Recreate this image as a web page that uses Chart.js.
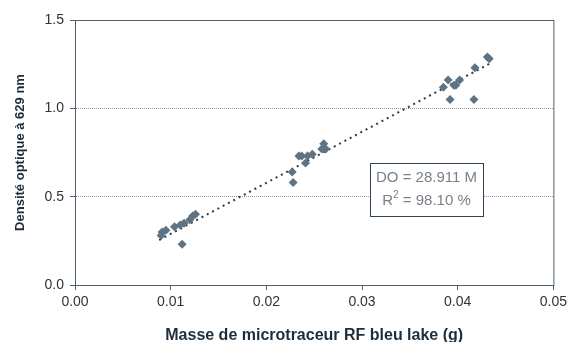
<!DOCTYPE html>
<html>
<head>
<meta charset="utf-8">
<script src="https://cdn.jsdelivr.net/npm/chart.js@4/dist/chart.umd.min.js"></script>
<style>
  html, body { margin: 0; padding: 0; background: #fff; }
  #wrap { width: 571px; height: 342px; }
</style>
</head>
<body>
<div id="wrap"><canvas id="chart"></canvas></div>
<script>
// masse (g) et densité optique
const masse = [0.0091, 0.0090, 0.0095, 0.0104, 0.0110, 0.0112, 0.0114, 0.0120, 0.0123, 0.0126,
               0.0228, 0.0227, 0.0234, 0.0237, 0.0241, 0.0243, 0.0248, 0.0258, 0.0260, 0.0262,
               0.0385, 0.0390, 0.0392, 0.0396, 0.0398, 0.0402, 0.0418, 0.0417, 0.0431, 0.0433];
const densite = [0.30, 0.28, 0.31, 0.33, 0.34, 0.23, 0.35, 0.37, 0.39, 0.40,
                 0.58, 0.64, 0.73, 0.73, 0.69, 0.73, 0.74, 0.77, 0.80, 0.77,
                 1.12, 1.16, 1.05, 1.13, 1.13, 1.16, 1.23, 1.05, 1.29, 1.28];

// droite de régression passant par l'origine : DO = 28.911 M
const pente = 28.911;
const r2 = '98.10 %';
const trendX = [0.0088, 0.0435];

const xTicks = [0, 0.01, 0.02, 0.03, 0.04, 0.05];
const yTicks = [0, 0.5, 1.0, 1.5];

const axisColor = '#4d6070';

// cadre + encadré de l'équation
const boxPlugin = {
    id: 'boxPlugin',
    afterDraw(chart) {
        const { ctx, chartArea: a } = chart;
        ctx.save();
        ctx.strokeStyle = axisColor;
        ctx.lineWidth = 1;
        ctx.setLineDash([]);
        ctx.strokeRect(a.left + 0.5, a.top + 0.5, a.right - a.left, a.bottom - a.top);

        const bx = 370, by = 163, bw = 113, bh = 53;
        ctx.fillStyle = '#fff';
        ctx.fillRect(bx, by, bw, bh);
        ctx.strokeStyle = '#2e4456';
        ctx.strokeRect(bx + 0.5, by + 0.5, bw, bh);

        ctx.fillStyle = '#7b8189';
        ctx.font = '15px "Liberation Sans", Arial, sans-serif';
        ctx.textAlign = 'center';
        ctx.textBaseline = 'middle';
        const cx = bx + bw / 2;
        ctx.fillText('DO = ' + pente + ' M', cx, by + 15);
        // R² avec exposant
        const t1 = 'R', t3 = ' = ' + r2;
        const w1 = ctx.measureText(t1).width;
        const w3 = ctx.measureText(t3).width;
        ctx.font = '10px "Liberation Sans", Arial, sans-serif';
        const w2 = ctx.measureText('2').width;
        let x = cx - (w1 + w2 + w3) / 2;
        const y = by + 38;
        ctx.textAlign = 'left';
        ctx.font = '15px "Liberation Sans", Arial, sans-serif';
        ctx.fillText(t1, x, y);
        x += w1;
        ctx.font = '10px "Liberation Sans", Arial, sans-serif';
        ctx.fillText('2', x, y - 6);
        x += w2;
        ctx.font = '15px "Liberation Sans", Arial, sans-serif';
        ctx.fillText(t3, x, y);
        ctx.restore();
    }
};

new Chart(document.getElementById('chart'), {
    type: 'scatter',
    data: {
        datasets: [
            {
                label: 'Mesures',
                data: masse.map((m, i) => ({ x: m, y: densite[i] })),
                pointStyle: 'rectRot',
                pointRadius: 4.5,
                backgroundColor: '#5f7383',
                borderColor: '#5f7383',
                borderWidth: 0
            },
            {
                type: 'line',
                label: 'Régression',
                data: trendX.map(m => ({ x: m, y: pente * m })),
                borderColor: '#2a3d4d',
                borderWidth: 2,
                borderDash: [2, 4],
                pointRadius: 0,
                fill: false
            }
        ]
    },
    options: {
        responsive: true,
        maintainAspectRatio: false,
        animation: false,
        layout: { padding: { top: 20, right: 15, left: 0, bottom: 0 } },
        plugins: { legend: { display: false }, tooltip: { enabled: false } },
        scales: {
            x: {
                type: 'linear',
                min: 0, max: 0.05,
                afterBuildTicks: s => { s.ticks = xTicks.map(v => ({ value: v })); },
                afterFit: s => { s.height = 57; },
                border: { display: true, color: axisColor, width: 1 },
                grid: { color: 'transparent', drawTicks: true, tickLength: 5, tickColor: axisColor },
                ticks: {
                    color: '#333',
                    font: { family: '"Liberation Sans", Arial, sans-serif', size: 14 },
                    padding: 4,
                    callback: v => v.toFixed(2)
                },
                title: {
                    display: true,
                    text: 'Masse de microtraceur RF bleu lake (g)',
                    color: '#1e2d3b',
                    font: { family: '"Liberation Sans", Arial, sans-serif', size: 16, weight: 'bold' },
                    padding: { top: 10, bottom: -3 }
                }
            },
            y: {
                min: 0, max: 1.5,
                afterBuildTicks: s => { s.ticks = yTicks.map(v => ({ value: v })); },
                afterFit: s => { s.width = 75; },
                border: { display: true, color: axisColor, width: 1, dash: [1, 1] },
                grid: {
                    color: c => (c.tick.value === 0.5 || c.tick.value === 1) ? '#8d9aa6' : 'transparent',
                    drawTicks: true,
                    tickLength: 5,
                    tickColor: axisColor,
                    tickBorderDash: []
                },
                ticks: {
                    color: '#333',
                    font: { family: '"Liberation Sans", Arial, sans-serif', size: 14 },
                    padding: 6,
                    callback: v => v.toFixed(1)
                },
                title: {
                    display: true,
                    text: 'Densité optique à 629 nm',
                    color: '#1e2d3b',
                    font: { family: '"Liberation Sans", Arial, sans-serif', size: 13, weight: 'bold' },
                    padding: { top: 13, bottom: 4 }
                }
            }
        }
    },
    plugins: [boxPlugin]
});
</script>
</body>
</html>
